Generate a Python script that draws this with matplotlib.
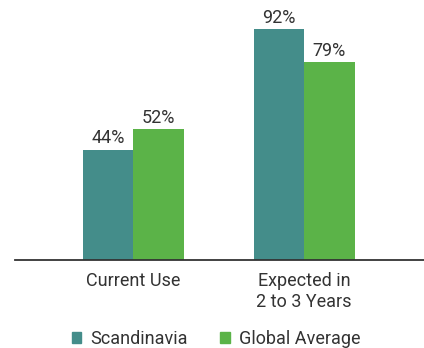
import numpy as np
import matplotlib.pyplot as plt
from matplotlib.patches import Rectangle

plt.rcParams['font.family'] = ['Roboto', 'DejaVu Sans']

categories = ['Current Use', 'Expected in\n2 to 3 Years']
scandinavia = [44, 92]
global_avg = [52, 79]
series_names = ['Scandinavia', 'Global Average']
colors = ['#448d8a', '#5bb348']
text_color = '#333333'

fig = plt.figure(figsize=(4.24, 3.48), dpi=100)
ax = fig.add_axes([15 / 424, 88 / 348, 409 / 424, 260 / 348])

x = np.arange(len(categories))
w = 0.295
b1 = ax.bar(x - w / 2, scandinavia, w, color=colors[0])
b2 = ax.bar(x + w / 2, global_avg, w, color=colors[1])

for bars, vals in [(b1, scandinavia), (b2, global_avg)]:
    for bar, v in zip(bars, vals):
        ax.annotate(f'{v}%', (bar.get_x() + bar.get_width() / 2, v),
                    xytext=(0, 1.5), textcoords='offset points',
                    ha='center', va='bottom', fontsize=13, color=text_color)

ax.set_xlim(-0.69, 1.70)
ax.set_ylim(0, 103.6)
for s in ['top', 'right', 'left']:
    ax.spines[s].set_visible(False)
ax.spines['bottom'].set_color('#333333')
ax.spines['bottom'].set_linewidth(1.3)
ax.set_yticks([])
ax.set_xticks(x)
ax.set_xticklabels(categories, fontsize=13, color=text_color, linespacing=1.2)
ax.tick_params(axis='x', length=0, pad=9)

# legend
handles = [Rectangle((0, 0), 1, 1, color=c) for c in colors]
fig.legend(handles, series_names, loc='center', bbox_to_anchor=(0.51, 9 / 348),
           ncol=2, frameon=False, fontsize=13, handlelength=0.55, handleheight=0.55,
           handletextpad=0.5, columnspacing=1.8, labelcolor=text_color)

fig.savefig('out.png', dpi=100)
